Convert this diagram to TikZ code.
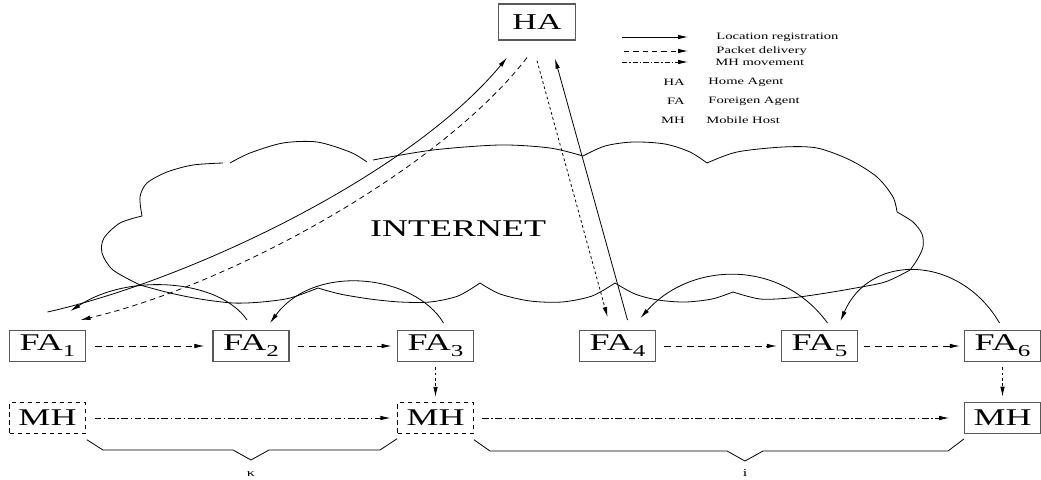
\documentclass[tikz,border=0pt]{standalone}
\usepackage{fontspec}
\setmainfont{Liberation Serif}[FakeStretch=1.5]
\usetikzlibrary{arrows.meta,calc}
\newcommand\fasub[1]{\raisebox{-4.5pt}{\fontsize{12.5}{12}\selectfont #1}}
\begin{document}
\begin{tikzpicture}[x=0.75pt,y=-0.75pt,
  line width=0.6pt,
  tip/.style={-{Latex[length=7.5pt,width=3.4pt]}},
  reg/.style={tip},
  pkt/.style={tip,dash pattern=on 5pt off 3.5pt},
  pktdot/.style={tip,dash pattern=on 2pt off 2pt},
  mov/.style={tip,dash pattern=on 5pt off 2pt on 1pt off 2pt},
  boxbase/.style={minimum width=57pt,minimum height=23pt,inner sep=0pt,font=\fontsize{18}{20}\selectfont},
  fabox/.style={boxbase,draw=black!65,line width=1pt},
  habox/.style={fabox,minimum width=58pt,minimum height=27pt,font=\fontsize{17}{20}\selectfont},
  mhdash/.style={boxbase,draw,dash pattern=on 3.5pt off 2.5pt,line width=0.6pt},
  legtext/.style={font=\fontsize{7.3}{8}\selectfont,inner sep=0pt},
  cloud/.style={line width=0.6pt},
  brace/.style={line width=0.6pt}
]
\useasboundingbox (0,0) rectangle (1041,479);

% ---------- cloud ----------
\draw[cloud] plot[smooth] coordinates {(140,285)(113,270)(102,253)(104,238)(120,223)(142,216)};
\draw[cloud] plot[smooth] coordinates {(142,216)(140,197)(147,183)(167,172)(193,165)(223,163)};
\draw[cloud] plot[smooth] coordinates {(230,163)(250,153)(283,143)(317,142)(350,152)(367,162)};
\draw[cloud] plot[smooth] coordinates {(373,160)(433,150)(500,145)(550,148)(583,156)};
\draw[cloud] plot[smooth] coordinates {(583,156)(605,146)(633,142)(665,144)(690,152)(707,163)};
\draw[cloud] plot[smooth] coordinates {(707,163)(737,152)(783,147)(817,148)(850,160)(877,177)(893,197)(897,212)};
\draw[cloud] plot[smooth] coordinates {(897,212)(913,222)(922,234)(923,247)(917,260)(910,270)};
\draw[cloud] plot[smooth] coordinates {(910,270)(885,282)(850,289)(820,294)(790,298)(760,299)(733,292)};
\draw[cloud] plot[smooth] coordinates {(733,292)(712,299)(685,302)(658,300)(635,294)(615,283)};
\draw[cloud] plot[smooth] coordinates {(615,283)(592,296)(562,302)(530,301)(500,294)(480,283)};
\draw[cloud] plot[smooth] coordinates {(480,283)(458,296)(430,302)(400,302)(370,299)(340,294)(318,288)};
\draw[cloud] plot[smooth] coordinates {(318,288)(290,298)(262,302)(233,303)(200,299)(170,293)(140,285)};
\node[font=\fontsize{18}{20}\selectfont,inner sep=0pt] (inet) at (458,229) {INTERNET};

% ---------- nodes ----------
\node[habox] (ha) at (537,22) {HA};
\node[fabox] (fa1) at (47.5,346) {FA\fasub{1}};
\node[fabox] (fa2) at (251,346) {FA\fasub{2}};
\node[fabox] (fa3) at (435.5,346) {FA\fasub{3}};
\node[fabox] (fa4) at (617.5,346) {FA\fasub{4}};
\node[fabox] (fa5) at (819.5,346) {FA\fasub{5}};
\node[fabox] (fa6) at (1002.5,346) {FA\fasub{6}};
\node[mhdash] (mh1) at (47.5,418) {MH};
\node[mhdash] (mh2) at (435.5,418) {MH};
\node[fabox] (mh3) at (1002.5,418) {MH};

% ---------- HA connections ----------
\draw[reg] ($(fa1.north)+(0,-18)$) .. controls (190,280) and (410,175) .. ($(ha.south)+(-30,17)$);
\draw[pkt,dash pattern=on 4pt off 3pt] ($(ha.south)+(-10,17)$) .. controls (440,170) and (230,285) .. ($(fa1.north)+(33,-10)$);
\draw[pktdot] ($(ha.south)+(0,20)$) -- ($(fa4.north)+(-10,-13)$);
\draw[reg] ($(fa4.north)+(10,-10)$) -- ($(ha.south)+(18,18)$);

% ---------- FA to FA registration arcs ----------
\draw[reg] ($(fa2.north)+(-4,-10)$) .. controls (220,280) and (130,272) .. ($(fa1.north)+(23,-19)$);
\draw[reg] ($(fa3.north)+(8,-7)$) .. controls (415,275) and (315,262) .. ($(fa2.north)+(19,-7)$);
\draw[reg] ($(fa5.north)+(8,-7)$) .. controls (780,258) and (690,262) .. ($(fa4.north)+(23,-12)$);
\draw[reg] ($(fa6.north)+(-3,-7)$) .. controls (960,255) and (870,252) .. ($(fa5.north)+(21,-9)$);

% ---------- packet forwarding ----------
\draw[pkt,shorten <=6.5pt,shorten >=6pt] (fa1) -- (fa2);
\draw[pkt,shorten <=6pt,shorten >=4pt] (fa2) -- (fa3);
\draw[pkt,shorten <=6pt,shorten >=3pt] (fa4) -- (fa5);
\draw[pkt,shorten <=4pt,shorten >=3pt] (fa5) -- (fa6);
\draw[pktdot,shorten <=4pt,shorten >=4pt] (fa3) -- (mh2);
\draw[pktdot,shorten <=4pt,shorten >=4pt] (fa6) -- (mh3);

% ---------- MH movement ----------
\draw[mov,shorten <=6.5pt,shorten >=5pt] (mh1) -- (mh2);
\draw[mov,shorten <=6pt,shorten >=11pt] (mh2) -- (mh3);

% ---------- braces ----------
\draw[brace] ($(mh1.south east)+(1,6)$) -- (103,450) -- (233,450) -- (251,460) -- (269,450) -- (380,450) -- ($(mh2.south west)+(0,5)$);
\draw[brace] ($(mh2.south east)+(0,6)$) -- (490,451) -- (727,451) -- (745,461) -- (763,451) -- (948,451) -- ($(mh3.south west)+(0,5)$);
\node[legtext,font=\fontsize{8}{8}\selectfont] (kap) at (251,474) {κ};
\node[legtext,font=\fontsize{8}{8}\selectfont] (ii) at (745,473) {i};

% ---------- legend ----------
\coordinate (l1a) at (622,37); \coordinate (l1b) at (688,37);
\coordinate (l2a) at (624,51); \coordinate (l2b) at (688,51);
\coordinate (l3a) at (622,62); \coordinate (l3b) at (688,62);
\draw[reg] (l1a) -- (l1b);
\draw[pkt,dash pattern=on 4pt off 3pt] (l2a) -- (l2b);
\draw[mov,dash pattern=on 4pt off 1.5pt on 1pt off 1.5pt] (l3a) -- (l3b);
\node[legtext,anchor=west] (t1) at (716,37) {Location registration};
\node[legtext,anchor=west] (t2) at (716,51) {Packet delivery};
\node[legtext,anchor=west] (t3) at (715,62) {MH movement};
\node[legtext,anchor=east] (a1) at (685,82) {HA};
\node[legtext,anchor=west] (d1) at (708,82) {Home Agent};
\node[legtext,anchor=east] (a2) at (685,101) {FA};
\node[legtext,anchor=west] (d2) at (708,101) {Foreigen Agent};
\node[legtext,anchor=east] (a3) at (685,120) {MH};
\node[legtext,anchor=west] (d3) at (706,120) {Mobile Host};
\end{tikzpicture}
\end{document}
